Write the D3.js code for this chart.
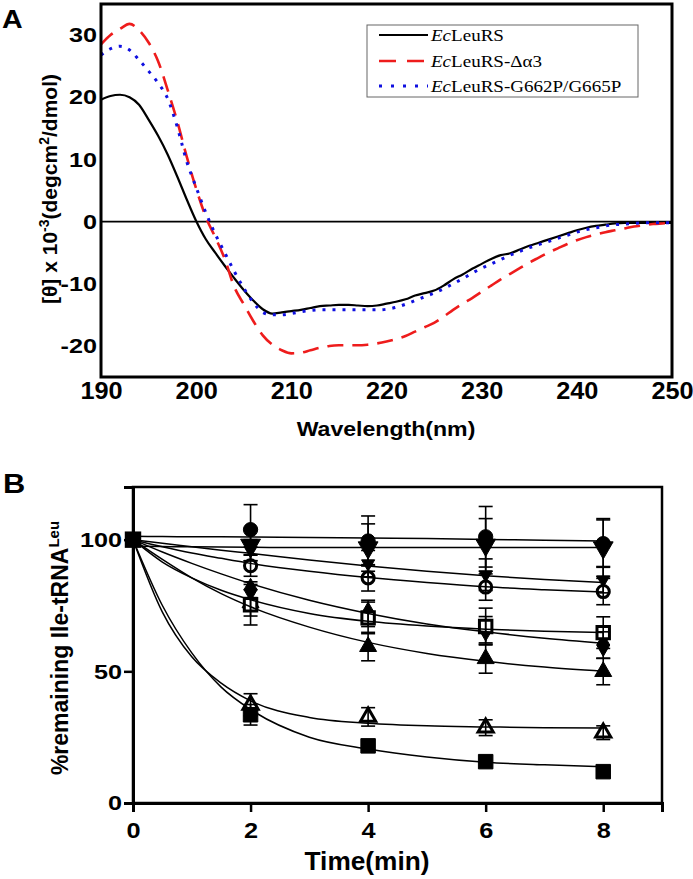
<!DOCTYPE html>
<html>
<head>
<meta charset="utf-8">
<script src="https://cdn.jsdelivr.net/npm/d3@7"></script>
<style>
  body { margin: 0; background: #fff; }
  text { font-family: "Liberation Sans", Arial, sans-serif; font-weight: bold; }
  .legend text { font-family: "Liberation Serif", "Times New Roman", serif; font-weight: normal; }
</style>
</head>
<body>
<script>
var width = 693, height = 879;

// ---- panel A : CD spectra ----
var wavelength = [190,191,192,193,194,195,196,197,198,199,200,201,202,203,204,205,206,207,208,209,
                  210,211,212,213,214,215,216,217,218,219,220,221,222,223,224,225,226,227,228,229,
                  230,231,232,233,234,235,236,237,238,239,240,241,242,243,244,245,246,247,248,249,250];
var cdWild = [19.6,20.2,20.4,20.0,18.8,16.4,13.8,10.8,7.3,3.6,0.1,-2.8,-5.0,-7.1,-9.1,-11.0,-12.7,-14.1,-14.8,-14.6,
              -14.4,-14.2,-13.9,-13.6,-13.5,-13.4,-13.4,-13.5,-13.6,-13.5,-13.2,-12.9,-12.5,-11.9,-11.5,-11.1,-10.3,-9.3,-8.5,-7.6,
              -6.8,-6.0,-5.4,-5.1,-4.5,-3.9,-3.4,-2.9,-2.4,-1.9,-1.4,-1.0,-0.7,-0.5,-0.3,-0.2,-0.2,-0.2,-0.2,-0.2,-0.2];
var cdDelta = [28.5,30.0,31.0,31.8,30.8,28.8,25.8,21.2,16.2,10.5,5.3,0.8,-2.5,-6.0,-10.5,-13.3,-16.0,-18.3,-19.8,-20.7,
               -21.2,-21.1,-20.7,-20.3,-20.0,-19.9,-19.9,-19.9,-19.8,-19.6,-19.3,-18.9,-18.4,-17.7,-17.0,-16.3,-15.3,-14.2,-13.2,-12.3,
               -11.3,-10.3,-9.3,-8.4,-7.5,-6.6,-5.8,-5.0,-4.3,-3.6,-3.0,-2.5,-2.1,-1.7,-1.4,-1.1,-0.8,-0.6,-0.4,-0.3,-0.2];
var cdMutant = [26.8,27.8,28.2,27.6,26.0,24.2,22.3,19.8,15.3,9.7,5.5,1.5,-2.0,-5.0,-8.0,-10.7,-13.0,-14.6,-15.0,-15.0,
                -14.8,-14.5,-14.3,-14.2,-14.2,-14.2,-14.2,-14.2,-14.2,-14.2,-14.1,-13.8,-13.3,-12.7,-12.1,-11.5,-10.8,-10.0,-9.2,-8.3,
                -7.5,-6.8,-6.1,-5.4,-4.8,-4.2,-3.7,-3.2,-2.7,-2.2,-1.7,-1.3,-1.0,-0.7,-0.5,-0.4,-0.3,-0.2,-0.2,-0.2,-0.2];
var legendNames = ["LeuRS", "LeuRS-\u0394\u03b13", "LeuRS-G662P/G665P"];
var cdTicksX = [190, 200, 210, 220, 230, 240, 250];
var cdTicksY = [-20, -10, 0, 10, 20, 30];

// ---- panel B : deacylation ----
var times = [0, 2, 4, 6, 8];
var fitTimes = [0, 0.5, 1, 1.5, 2, 3, 4, 5, 6, 7, 8];
var timeTicks = [0, 2, 4, 6, 8];
var remainTicks = [0, 50, 100];

var remSquare      = [100, 33.5, 21.7, 15.7, 11.9];
var errSquare      = [0, 3.9, 0, 0, 0];
var fitSquare      = [100, 75, 57, 44, 35.5, 25, 20.5, 17.5, 15.5, 14.5, 13.8];

var remTriOpen     = [100, 37.3, 32.7, 28.6, 26.7];
var errTriOpen     = [0, 4.2, 3.5, 3.0, 2.6];
var fitTriOpen     = [100, 72.5, 55.5, 45.5, 38.8, 32.5, 30.3, 29.3, 28.9, 28.6, 28.5];

var remTri         = [100, 76, 59.4, 54.8, 49.9];
var errTri         = [0, 5, 5.4, 5.5, 5];
var fitTri         = [100, 92.5, 85.5, 79.5, 74.5, 66.8, 61, 56.8, 53.8, 51.6, 50];

var remDiamond     = [100, 81, 72, 65.8, 60];
var errDiamond     = [0, 3, 5, 5, 5];
var fitDiamond     = [100, 95.3, 91, 87, 83.3, 77, 72, 68, 65, 62.6, 60.7];

var remSquareOpen  = [100, 75.3, 70.3, 67, 64.7];
var errSquareOpen  = [0, 7.7, 6, 7, 6];
var fitSquareOpen  = [100, 91.5, 85.5, 80.8, 77.2, 72, 69, 67.2, 66, 65.2, 64.7];

var remCircleOpen  = [100, 90.1, 85.5, 82, 80.3];
var errCircleOpen  = [0, 4, 5, 5, 5];
var fitCircleOpen  = [100, 97.3, 94.9, 92.9, 91, 88, 85.6, 83.7, 82.1, 81, 80.1];

var remDownSmall   = [100, 96, 90.9, 86.7, 84.8];
var errDownSmall   = [0, 4, 5, 6, 5];
var fitDownSmall   = [100, 98.6, 97.3, 96, 94.8, 92.3, 90, 88, 86.3, 84.9, 83.7];

var remDown        = [100, 98, 97, 98, 97];
var errDown        = [0, 6, 9, 10, 11];
var fitDown        = [97.6, 97.4, 97.3, 97.2, 97.1, 97, 97, 97, 97, 97, 97];

var remCircle      = [100, 103.8, 99.5, 101.1, 98.5];
var errCircle      = [0, 9.5, 9.5, 11.5, 9];
var fitCircle      = [101.3, 101.2, 101.1, 101.1, 101, 100.8, 100.6, 100.4, 100.1, 99.8, 99.5];


function ChartManager() {

  var svg;

  function _init() {
    console.log("ChartManager::init");
    svg = d3.select("body").append("svg")
          .attr("width", width)
          .attr("height", height)
          .style("display", "block");
  }

  // stretch text horizontally, keeping its anchor point in place
  function _stretch(sel, k) {
    sel.each(function() {
      var t = d3.select(this);
      var x = +t.attr("x") || 0;
      t.attr("x", x / k).attr("transform", "scale(" + k + ",1)");
    });
  }

  function _drawSpectra() {
    console.log("ChartManager::drawSpectra");
    var x = d3.scaleLinear().domain([190, 250]).range([101, 672]);
    var y = d3.scaleLinear().domain([-25, 35]).range([377, 4]);
    var g = svg.append("g").attr("class", "panel-a");

    var yAxis = g.append("g")
        .attr("transform", "translate(" + x.range()[0] + ",0)")
        .call(d3.axisLeft(y).tickValues(cdTicksY).tickSize(0).tickPadding(4)
              .tickFormat(function(d) { return String(d); }));
    yAxis.select(".domain").remove();
    yAxis.selectAll("text").attr("font-size", 21).attr("fill", "#000");
    _stretch(yAxis.selectAll("text"), 1.2);

    var xAxis = g.append("g")
        .attr("transform", "translate(0," + y.range()[0] + ")")
        .call(d3.axisBottom(x).tickValues(cdTicksX).tickSize(0).tickPadding(6));
    xAxis.select(".domain").remove();
    xAxis.selectAll("text").attr("font-size", 23).attr("fill", "#000");
    _stretch(xAxis.selectAll("text"), 1.1);

    g.append("line")
      .attr("x1", x(190)).attr("x2", x(250))
      .attr("y1", y(0)).attr("y2", y(0))
      .attr("stroke", "#000").attr("stroke-width", 1.6);

    var series = [
      { v: cdWild,   color: "#000",    width: 2.2, dash: null },
      { v: cdDelta,  color: "#ee1c1c", width: 2.6, dash: "16,9" },
      { v: cdMutant, color: "#1010e0", width: 3,   dash: "3,7" }
    ];
    var line = d3.line()
        .x(function(d, i) { return x(wavelength[i]); })
        .y(function(d) { return y(d); })
        .curve(d3.curveMonotoneX);

    g.append("clipPath").attr("id", "clipA")
      .append("rect").attr("x", x(190)).attr("y", y(35))
      .attr("width", x(250) - x(190)).attr("height", y(-25) - y(35));

    g.append("g").attr("clip-path", "url(#clipA)")
      .selectAll("path").data(series).enter().append("path")
        .attr("d", function(s) { return line(s.v); })
        .attr("fill", "none")
        .attr("stroke", function(s) { return s.color; })
        .attr("stroke-width", function(s) { return s.width; })
        .attr("stroke-dasharray", function(s) { return s.dash; });

    g.append("rect")
      .attr("x", x(190)).attr("y", y(35))
      .attr("width", x(250) - x(190)).attr("height", y(-25) - y(35))
      .attr("fill", "none").attr("stroke", "#000").attr("stroke-width", 3);

    // legend
    var lg = g.append("g").attr("class", "legend");
    lg.append("rect")
      .attr("x", 367).attr("y", 25).attr("width", 271).attr("height", 72)
      .attr("fill", "#fff").attr("stroke", "#666").attr("stroke-width", 1);
    var rows = lg.selectAll("g.row").data(series).enter().append("g")
        .attr("class", "row")
        .attr("transform", function(d, i) { return "translate(0," + [35, 61, 86][i] + ")"; });
    rows.append("line")
      .attr("x1", 379).attr("x2", 428).attr("y1", 0).attr("y2", 0)
      .attr("stroke", function(s) { return s.color; })
      .attr("stroke-width", function(s) { return s.width; })
      .attr("stroke-dasharray", function(s, i) { return i == 1 ? "17,11" : (i == 2 ? "3,9" : null); });
    var lt = rows.append("text")
      .attr("x", 431).attr("y", 6)
      .attr("font-size", 17).attr("fill", "#000");
    lt.append("tspan").attr("font-style", "italic").text("Ec");
    lt.append("tspan").text(function(d, i) { return legendNames[i]; });
    _stretch(lt, 1.12);

    // titles
    var xt = g.append("text")
      .attr("x", 386).attr("y", 436)
      .attr("text-anchor", "middle").attr("font-size", 21)
      .text("Wavelength(nm)");
    _stretch(xt, 1.1);

    var yt = g.append("text")
      .attr("transform", "translate(57,189) rotate(-90)")
      .attr("text-anchor", "middle").attr("font-size", 21);
    yt.append("tspan").text("[\u03b8] x 10");
    yt.append("tspan").attr("dy", -8).attr("font-size", 14).text("-3");
    yt.append("tspan").attr("dy", 8).text("(degcm");
    yt.append("tspan").attr("dy", -8).attr("font-size", 14).text("2");
    yt.append("tspan").attr("dy", 8).text("/dmol)");

    var lab = g.append("text").attr("x", 2).attr("y", 28).attr("font-size", 26).text("A");
    _stretch(lab, 1.1);
  }

  function _drawKinetics() {
    console.log("ChartManager::drawKinetics");
    var x = d3.scaleLinear().domain([0, 9]).range([133, 662]);
    var y = d3.scaleLinear().domain([0, 120]).range([803, 487]);
    var g = svg.append("g").attr("class", "panel-b");

    // filled squares last so the shared start point shows as a square
    var rows = [
      { rem: remTriOpen,    err: errTriOpen,    fit: fitTriOpen,    type: d3.symbolTriangle, size: 100, open: true,  rot: 0 },
      { rem: remTri,        err: errTri,        fit: fitTri,        type: d3.symbolTriangle, size: 125, open: false, rot: 0 },
      { rem: remDiamond,    err: errDiamond,    fit: fitDiamond,    type: d3.symbolDiamond,  size: 150, open: false, rot: 0 },
      { rem: remSquareOpen, err: errSquareOpen, fit: fitSquareOpen, type: d3.symbolSquare,   size: 155, open: true,  rot: 0 },
      { rem: remCircleOpen, err: errCircleOpen, fit: fitCircleOpen, type: d3.symbolCircle,   size: 115, open: true,  rot: 0 },
      { rem: remDownSmall,  err: errDownSmall,  fit: fitDownSmall,  type: d3.symbolTriangle, size: 75,  open: false, rot: 180 },
      { rem: remDown,       err: errDown,       fit: fitDown,       type: d3.symbolTriangle, size: 170, open: false, rot: 180 },
      { rem: remCircle,     err: errCircle,     fit: fitCircle,     type: d3.symbolCircle,   size: 160, open: false, rot: 0 },
      { rem: remSquare,     err: errSquare,     fit: fitSquare,     type: d3.symbolSquare,   size: 210, open: false, rot: 0 }
    ];

    // markers (the shared t = 0 point is drawn later, over the curves)
    rows.forEach(function(s) {
      g.append("g").selectAll("path").data(s.rem.slice(1)).enter().append("path")
        .attr("d", d3.symbol().type(s.type).size(s.size))
        .attr("transform", function(d, i) {
          return "translate(" + x(times[i + 1]) + "," + y(d) + ") rotate(" + s.rot + ")";
        })
        .attr("fill", s.open ? "#fff" : "#000")
        .attr("stroke", "#000")
        .attr("stroke-width", s.open ? 3 : 1);
    });

    // error bars
    var bars = [];
    rows.forEach(function(s) {
      s.rem.forEach(function(v, i) {
        if (s.err[i] > 0) bars.push({ t: times[i], lo: v - s.err[i], hi: v + s.err[i] });
      });
    });
    var eb = g.append("g").attr("stroke", "#000").attr("stroke-width", 1.6);
    eb.selectAll("line.v").data(bars).enter().append("line")
      .attr("x1", function(d) { return x(d.t); }).attr("x2", function(d) { return x(d.t); })
      .attr("y1", function(d) { return y(d.lo); }).attr("y2", function(d) { return y(d.hi); });
    eb.selectAll("line.lo").data(bars).enter().append("line")
      .attr("x1", function(d) { return x(d.t) - 7; }).attr("x2", function(d) { return x(d.t) + 7; })
      .attr("y1", function(d) { return y(d.lo); }).attr("y2", function(d) { return y(d.lo); });
    eb.selectAll("line.hi").data(bars).enter().append("line")
      .attr("x1", function(d) { return x(d.t) - 7; }).attr("x2", function(d) { return x(d.t) + 7; })
      .attr("y1", function(d) { return y(d.hi); }).attr("y2", function(d) { return y(d.hi); });

    // fitted curves
    var line = d3.line()
        .x(function(d, i) { return x(fitTimes[i]); })
        .y(function(d) { return y(d); })
        .curve(d3.curveMonotoneX);
    g.append("g").selectAll("path").data(rows).enter().append("path")
      .attr("d", function(s) { return line(s.fit); })
      .attr("fill", "none").attr("stroke", "#000").attr("stroke-width", 1.5);

    // start point: every series begins at the same value, seen as one big square
    g.append("path")
      .attr("d", d3.symbol().type(d3.symbolSquare).size(270))
      .attr("transform", "translate(" + x(times[0]) + "," + y(remSquare[0]) + ")")
      .attr("fill", "#000");

    // frame and axes
    g.append("rect")
      .attr("x", x(0)).attr("y", y(120))
      .attr("width", x(9) - x(0)).attr("height", y(0) - y(120))
      .attr("fill", "none").attr("stroke", "#000").attr("stroke-width", 2.5);

    var xAxis = g.append("g")
        .attr("transform", "translate(0," + y(0) + ")")
        .call(d3.axisBottom(x).tickValues(timeTicks).tickSize(9).tickPadding(10));
    xAxis.select(".domain").attr("stroke-width", 3);
    xAxis.selectAll(".tick line").attr("stroke-width", 2.5);
    xAxis.selectAll("text").attr("font-size", 22).attr("fill", "#000");
    _stretch(xAxis.selectAll("text"), 1.15);

    var yAxis = g.append("g")
        .attr("transform", "translate(" + x(0) + ",0)")
        .call(d3.axisLeft(y).tickValues(remainTicks).tickSize(9).tickPadding(2));
    yAxis.select(".domain").attr("stroke-width", 3);
    yAxis.selectAll(".tick line").attr("stroke-width", 2.5);
    yAxis.selectAll("text").attr("font-size", 21).attr("fill", "#000");
    _stretch(yAxis.selectAll("text"), 1.2);

    var xt = g.append("text")
      .attr("x", 367).attr("y", 870)
      .attr("text-anchor", "middle").attr("font-size", 25)
      .text("Time(min)");
    _stretch(xt, 1.05);

    var yt = g.append("text")
      .attr("transform", "translate(68,648) rotate(-90)")
      .attr("text-anchor", "middle").attr("font-size", 23);
    yt.append("tspan").text("%remaining Ile-tRNA");
    yt.append("tspan").attr("dy", -9).attr("font-size", 15).text("Leu");

    var lab = g.append("text").attr("x", 3).attr("y", 493).attr("font-size", 28).text("B");
    _stretch(lab, 1.1);
  }

  _init();

  return {
    init: _init,
    drawSpectra: _drawSpectra,
    drawKinetics: _drawKinetics
  };
}

var chart = ChartManager();
chart.drawSpectra();
chart.drawKinetics();
</script>
</body>
</html>
